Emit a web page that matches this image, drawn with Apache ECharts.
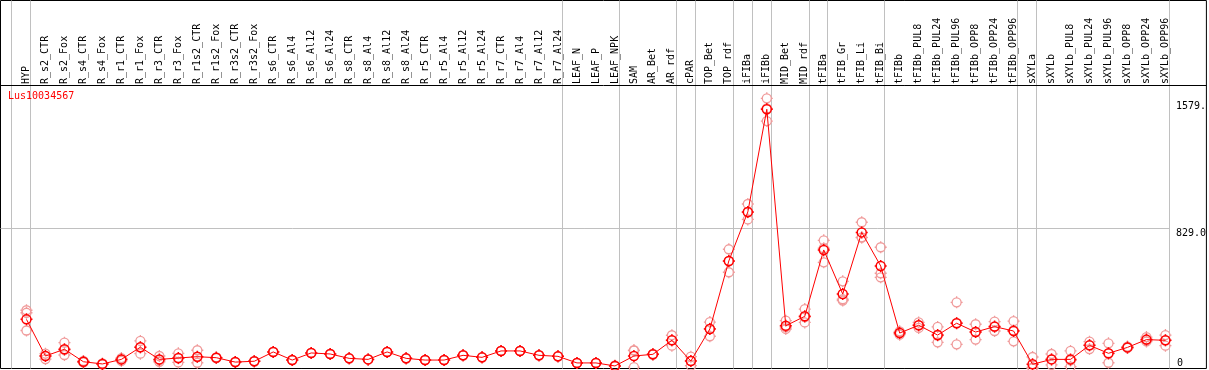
<!DOCTYPE html>
<html>
<head>
<meta charset="utf-8">
<script src="https://cdn.jsdelivr.net/npm/echarts@6/dist/echarts.min.js"></script>
<style>
html,body{margin:0;padding:0;background:#fff;}
#chart{width:1209px;height:370px;}
</style>
</head>
<body>
<div id="chart"></div>
<script>
// ---------------- data ----------------
const geneName = 'Lus10034567';
const categories = ['HYP','R_s2_CTR','R_s2_Fox','R_s4_CTR','R_s4_Fox','R_r1_CTR','R_r1_Fox','R_r3_CTR','R_r3_Fox','R_r1s2_CTR','R_r1s2_Fox','R_r3s2_CTR','R_r3s2_Fox','R_s6_CTR','R_s6_Al4','R_s6_Al12','R_s6_Al24','R_s8_CTR','R_s8_Al4','R_s8_Al12','R_s8_Al24','R_r5_CTR','R_r5_Al4','R_r5_Al12','R_r5_Al24','R_r7_CTR','R_r7_Al4','R_r7_Al12','R_r7_Al24','LEAF_N','LEAF_P','LEAF_NPK','SAM','AR_Bet','AR_rdf','cPAR','TOP_Bet','TOP_rdf','iFIBa','iFIBb','MID_Bet','MID_rdf','tFIBa','tFIB_Gr','tFIB_Li','tFIB_Bi','tFIBb','tFIBb_PUL8','tFIBb_PUL24','tFIBb_PUL96','tFIBb_OPP8','tFIBb_OPP24','tFIBb_OPP96','sXYLa','sXYLb','sXYLb_PUL8','sXYLb_PUL24','sXYLb_PUL96','sXYLb_OPP8','sXYLb_OPP24','sXYLb_OPP96'];
const means = [291,74,114,40,27,54,126,54,62,70,64,38,43,98,50,92,86,60,54,98,60,50,50,78,66,104,104,78,72,33,33,15,74,84,167,44,234,637,927,1535,253,309,702,441,806,607,210,256,198,268,216,248,222,25,54,54,137,90,125,171,167];
const rep1 = [345,88,153,45,30,62,163,74,90,108,66,38,43,98,50,92,86,60,54,98,60,50,50,78,66,104,104,78,72,33,33,18,108,86,197,70,275,706,974,1600,283,352,759,516,866,718,220,273,246,392,262,277,280,68,86,104,159,149,130,186,198];
const rep2 = [330,74,110,40,27,54,126,50,60,68,64,38,43,98,50,92,86,60,54,98,60,50,50,78,66,104,104,78,72,33,33,15,106,84,168,45,236,635,925,1540,245,305,712,410,777,564,212,256,195,270,216,246,225,6,55,48,137,88,124,168,167];
const rep3 = [225,56,80,36,25,45,88,40,36,34,62,38,43,98,50,92,86,60,54,98,60,50,50,78,66,104,104,78,72,33,33,12,8,82,135,17,191,570,883,1465,234,273,629,402,775,540,200,240,155,143,171,222,161,1,21,11,115,34,122,160,135];
// group separators: drawn after these category indices
const separatorsAfter = [-1,0,28,31,34,35,37,38,39,41,42,45,52,53,60];
const yTickValues = [829, 1579];
const yTickLabels = ['829.0', '1579.'];
const yZeroLabel = '0';

// ---------------- layout ----------------
const gridLeft = 0.5, gridTop = 0.5, gridWidth = 1207, gridHeight = 368;
const gridBottom = gridTop + gridHeight;
const colX0 = 26.5, colStep = 19;            // pixel of first column, column pitch
const sepOffset = 4 / colStep;               // separators sit 4px right of a column
const xMin = (gridLeft - colX0) / colStep;
const xMax = (gridLeft + gridWidth - colX0) / colStep;
const pxPerUnit = 140 / 829;                 // vertical scale
const headerY = 85.5;
const yTop = gridHeight / pxPerUnit;
const headerValue = (gridBottom - headerY) / pxPerUnit;

const FONT = 'DejaVu Sans Mono';
const RED = '#ff0000';
const PINK = '#f09a9a';
const GREY = '#c0c0c0';

const markerPath = 'path://M1.5,6A4.5,4.5,0,1,1,10.5,6A4.5,4.5,0,1,1,1.5,6Z M6,0L6,1.5 M6,10.5L6,12 M0,6L1.5,6 M10.5,6L12,6';

const repData = [];
[rep1, rep2, rep3].forEach(r => r.forEach((v, i) => { if (v != null) repData.push([i, v]); }));
const meanData = means.map((v, i) => [i, v]);

const sepLines = separatorsAfter.map(i => ({ xAxis: i + sepOffset }));
const lastSep = separatorsAfter[separatorsAfter.length - 1] + sepOffset;

const chart = echarts.init(document.getElementById('chart'), null, { renderer: 'canvas' });
chart.setOption({
  animation: false,
  backgroundColor: '#fff',
  title: {
    text: geneName, left: 8, top: 91, padding: 0,
    textStyle: { color: RED, fontFamily: FONT, fontSize: 10, fontWeight: 'normal' }
  },
  grid: {
    left: gridLeft, top: gridTop, width: gridWidth, height: gridHeight,
    show: true, borderColor: '#000', borderWidth: 1, backgroundColor: '#fff', containLabel: false
  },
  xAxis: {
    type: 'value', min: xMin, max: xMax, position: 'top', offset: -(headerY - gridTop),
    axisLine: { show: false }, axisTick: { show: false }, splitLine: { show: false },
    axisLabel: {
      customValues: categories.map((c, i) => i),
      formatter: v => categories[Math.round(v)],
      rotate: 90, margin: 1.5, color: '#000', fontFamily: FONT, fontSize: 10
    }
  },
  yAxis: [
    {
      type: 'value', min: 0, max: yTop, position: 'right',
      axisLine: { show: false }, axisTick: { show: false }, splitLine: { show: false },
      axisLabel: {
        customValues: yTickValues,
        formatter: v => yTickLabels[yTickValues.indexOf(v)],
        inside: true, margin: 30.5, align: 'left', verticalAlign: 'top',
        color: '#000', fontFamily: FONT, fontSize: 10
      }
    },
    {
      type: 'value', min: 0, max: yTop, position: 'left',
      axisLine: { show: false }, axisTick: { show: false }, splitLine: { show: false },
      axisLabel: {
        customValues: [0],
        formatter: () => yZeroLabel,
        inside: true, margin: gridWidth - 30.5, align: 'left', verticalAlign: 'bottom',
        color: '#000', fontFamily: FONT, fontSize: 10
      }
    }
  ],
  series: [
    {
      type: 'scatter', z: 2, yAxisIndex: 0, silent: true,
      data: repData,
      symbol: markerPath, symbolSize: 12,
      itemStyle: { color: 'rgba(255,255,255,0)', borderColor: PINK, borderWidth: 1.3, opacity: 1 },
      markLine: {
        silent: true, z: 1, symbol: 'none', animation: false,
        label: { show: false },
        lineStyle: { color: GREY, width: 1, type: 'solid' },
        emphasis: { disabled: true },
        data: sepLines.concat([
          [{ coord: [xMin, 829] }, { coord: [lastSep, 829] }],
          { yAxis: headerValue, lineStyle: { color: '#000', width: 1, type: 'solid' } }
        ])
      }
    },
    {
      type: 'line', z: 3, yAxisIndex: 0, silent: true,
      data: meanData,
      symbol: markerPath, symbolSize: 12, showAllSymbol: true,
      lineStyle: { color: RED, width: 1 },
      itemStyle: { color: 'rgba(255,255,255,0)', borderColor: RED, borderWidth: 1.5 }
    }
  ]
});
</script>
</body>
</html>
